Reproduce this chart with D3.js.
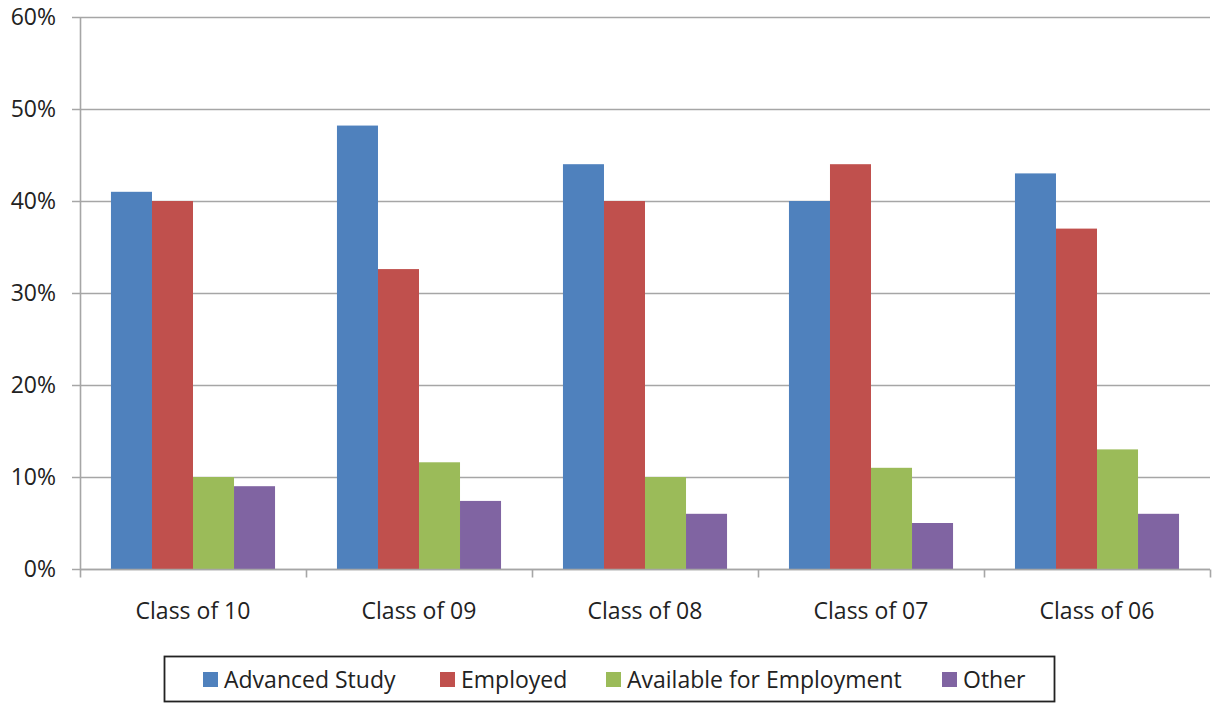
<!DOCTYPE html>
<html lang="en">
<head>
  <script src="https://d3js.org/d3.v7.min.js"></script>
  <style>
    body { margin: 0; background: #fff; }
    text { font-family: "Open Sans", Lato, sans-serif; fill: #222; }
  </style>
</head>
<body>
<script>
// chart data
const classes = ["Class of 10", "Class of 09", "Class of 08", "Class of 07", "Class of 06"];
const seriesNames = ["Advanced Study", "Employed", "Available for Employment", "Other"];
const advancedStudy = [41, 48.2, 44, 40, 43];
const employed = [40, 32.6, 40, 44, 37];
const availableForEmployment = [10, 11.6, 10, 11, 13];
const other = [9, 7.4, 6, 5, 6];
const yTicks = [0, 10, 20, 30, 40, 50, 60];
const colors = ["#4f81bd", "#c0504d", "#9bbb59", "#8064a2"];

const seriesValues = [advancedStudy, employed, availableForEmployment, other];
const rows = classes.map((c, i) => ({
  name: c,
  values: seriesNames.map((s, j) => ({ key: s, value: seriesValues[j][i] }))
}));

const W = 1217, H = 704;
const margin = { top: 17, right: 7, bottom: 135, left: 80 };
const width = W - margin.left - margin.right;
const height = H - margin.top - margin.bottom;

const svg = d3.select("body").append("svg")
  .attr("width", W)
  .attr("height", H);

const g = svg.append("g")
  .attr("transform", "translate(" + margin.left + "," + margin.top + ")");

const x0 = d3.scaleBand()
  .domain(classes)
  .range([0, width])
  .paddingInner(0.274)
  .paddingOuter(0.137);

const xBand = d3.scaleBand()
  .domain(classes)
  .range([0, width]);

const x1 = d3.scaleBand()
  .domain(seriesNames)
  .range([0, x0.bandwidth()]);

const y = d3.scaleLinear()
  .domain([0, 60])
  .range([height, 0]);

// gridlines
g.append("g")
  .selectAll("line")
  .data(yTicks)
  .join("line")
  .attr("x1", -8)
  .attr("x2", width)
  .attr("y1", d => y(d) + 0.5)
  .attr("y2", d => y(d) + 0.5)
  .attr("stroke", "#a6a6a6")
  .attr("stroke-width", 1.6);

// y labels
g.append("g")
  .selectAll("text")
  .data(yTicks)
  .join("text")
  .attr("x", -24)
  .attr("y", d => y(d))
  .attr("dy", "0.35em")
  .attr("text-anchor", "end")
  .style("font-size", "23px")
  .text(d => d + "%");

// y axis line
g.append("line")
  .attr("x1", 0.5).attr("x2", 0.5)
  .attr("y1", 0).attr("y2", height)
  .attr("stroke", "#a6a6a6")
  .attr("stroke-width", 1.6);

// bars
g.append("g")
  .selectAll("g")
  .data(rows)
  .join("g")
  .attr("transform", d => "translate(" + x0(d.name) + ",0)")
  .selectAll("rect")
  .data(d => d.values)
  .join("rect")
  .attr("x", d => x1(d.key))
  .attr("y", d => y(d.value))
  .attr("width", x1.bandwidth())
  .attr("height", d => height - y(d.value))
  .attr("fill", (d, i) => colors[i]);

// x axis
const xAxis = g.append("g")
  .attr("transform", "translate(0," + (height + 0.5) + ")");

xAxis.append("line")
  .attr("x1", 0).attr("x2", width)
  .attr("stroke", "#a6a6a6")
  .attr("stroke-width", 1.6);

const edges = classes.map(c => xBand(c)).concat([width]);
xAxis.selectAll(".tick")
  .data(edges)
  .join("line")
  .attr("class", "tick")
  .attr("x1", d => d + 0.5).attr("x2", d => d + 0.5)
  .attr("y1", 0).attr("y2", 8)
  .attr("stroke", "#a6a6a6")
  .attr("stroke-width", 1.6);

xAxis.selectAll("text")
  .data(classes)
  .join("text")
  .attr("x", d => xBand(d) + xBand.bandwidth() / 2)
  .attr("y", 41)
  .attr("dy", "0.35em")
  .attr("text-anchor", "middle")
  .style("font-size", "23px")
  .text(d => d);

// legend
const legend = svg.append("g");
legend.append("rect")
  .attr("x", 164.5).attr("y", 656.5)
  .attr("width", 890).attr("height", 45)
  .attr("fill", "none")
  .attr("stroke", "#222")
  .attr("stroke-width", 1.8);

const legendX = [203, 440, 606, 942];
const items = legend.selectAll("g.item")
  .data(seriesNames)
  .join("g")
  .attr("class", "item")
  .attr("transform", (d, i) => "translate(" + legendX[i] + ",679.5)");

items.append("rect")
  .attr("x", 0).attr("y", -7.5)
  .attr("width", 15).attr("height", 15)
  .attr("fill", (d, i) => colors[i]);

items.append("text")
  .attr("x", 21)
  .attr("dy", "0.35em")
  .style("font-size", "23px")
  .text(d => d);
</script>
</body>
</html>
